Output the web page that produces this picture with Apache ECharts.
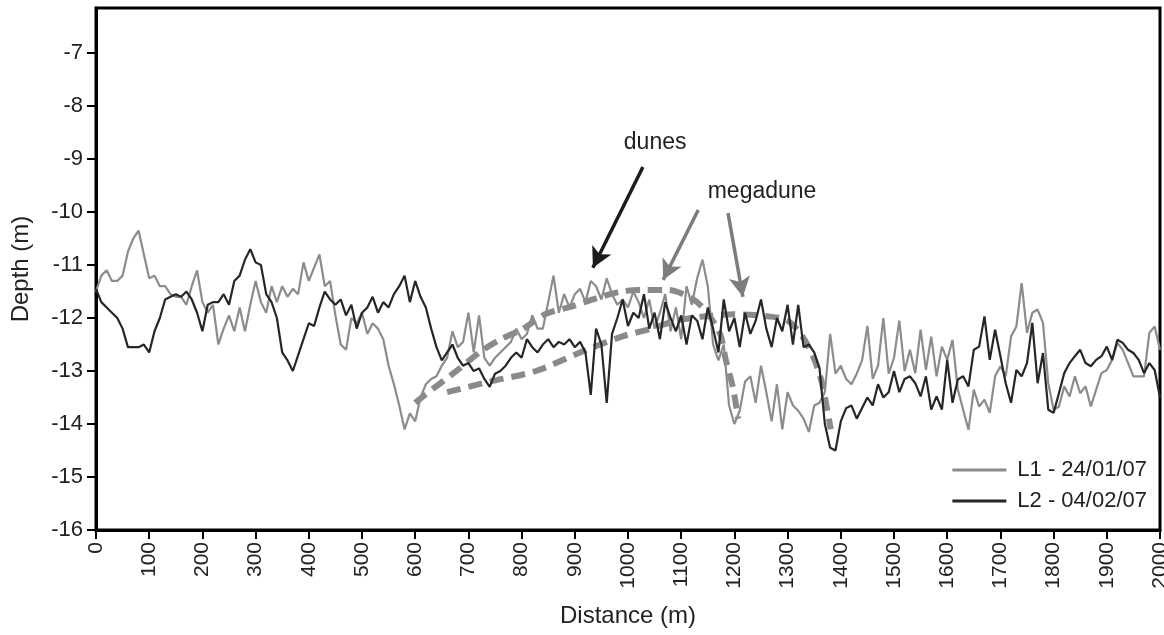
<!DOCTYPE html>
<html>
<head>
<meta charset="utf-8">
<script src="https://cdn.jsdelivr.net/npm/echarts@6/dist/echarts.min.js"></script>
<style>
html,body{margin:0;padding:0;background:#fff;}
#chart{width:1164px;height:635px;}
</style>
</head>
<body>
<div id="chart"></div>
<script>
// Distance (m) sampling positions
const distance = [0,10,20,30,40,50,60,70,80,90,100,110,120,130,140,150,160,170,180,190,200,210,220,230,240,250,260,270,280,290,300,310,320,330,340,350,360,370,380,390,400,410,420,430,440,450,460,470,480,490,500,510,520,530,540,550,560,570,580,590,600,610,620,630,640,650,660,670,680,690,700,710,720,730,740,750,760,770,780,790,800,810,820,830,840,850,860,870,880,890,900,910,920,930,940,950,960,970,980,990,1000,1010,1020,1030,1040,1050,1060,1070,1080,1090,1100,1110,1120,1130,1140,1150,1160,1170,1180,1190,1200,1210,1220,1230,1240,1250,1260,1270,1280,1290,1300,1310,1320,1330,1340,1350,1360,1370,1380,1390,1400,1410,1420,1430,1440,1450,1460,1470,1480,1490,1500,1510,1520,1530,1540,1550,1560,1570,1580,1590,1600,1610,1620,1630,1640,1650,1660,1670,1680,1690,1700,1710,1720,1730,1740,1750,1760,1770,1780,1790,1800,1810,1820,1830,1840,1850,1860,1870,1880,1890,1900,1910,1920,1930,1940,1950,1960,1970,1980,1990,2000];

// L1 - 24/01/07 depth (m)
const depthL1 = [-11.5,-11.2,-11.1,-11.3,-11.3,-11.2,-10.75,-10.5,-10.35,-10.8,-11.25,-11.2,-11.4,-11.4,-11.55,-11.6,-11.6,-11.75,-11.4,-11.1,-11.7,-11.9,-11.75,-12.5,-12.2,-11.95,-12.25,-11.8,-12.25,-11.75,-11.3,-11.7,-11.9,-11.4,-11.7,-11.4,-11.6,-11.45,-11.55,-10.95,-11.3,-11.05,-10.8,-11.4,-11.3,-11.95,-12.5,-12.6,-12.0,-12.1,-11.9,-12.3,-12.1,-12.2,-12.4,-12.9,-13.25,-13.65,-14.1,-13.8,-13.95,-13.5,-13.25,-13.15,-13.1,-12.9,-12.75,-12.25,-12.55,-12.45,-11.9,-12.65,-11.95,-12.75,-12.9,-12.75,-12.65,-12.55,-12.45,-12.2,-12.4,-12.3,-11.95,-12.2,-12.2,-11.7,-11.2,-11.9,-11.55,-11.8,-11.55,-11.45,-11.7,-11.3,-11.4,-11.65,-11.25,-11.55,-11.75,-11.65,-11.8,-11.5,-11.7,-12.0,-11.65,-12.2,-11.9,-11.55,-12.25,-11.8,-12.4,-11.4,-11.75,-11.25,-10.9,-11.4,-12.5,-12.8,-12.5,-13.65,-14.0,-13.75,-13.2,-13.1,-13.6,-12.9,-13.4,-13.95,-13.25,-14.1,-13.4,-13.65,-13.75,-13.9,-14.15,-13.65,-13.6,-13.4,-12.3,-13.05,-12.9,-13.15,-13.25,-13.05,-12.8,-12.15,-13.15,-12.9,-12.0,-13.05,-12.75,-12.05,-13.0,-12.6,-13.04,-12.22,-12.98,-12.35,-13.1,-12.54,-12.79,-12.41,-13.35,-13.73,-14.11,-13.35,-13.67,-13.54,-13.79,-13.1,-12.91,-13.1,-12.35,-12.16,-11.34,-12.28,-11.9,-11.84,-12.09,-13.23,-13.73,-13.67,-13.29,-13.48,-13.1,-13.42,-13.29,-13.67,-13.35,-13.04,-12.98,-12.79,-12.47,-12.6,-12.85,-13.1,-13.1,-13.1,-12.28,-12.16,-12.6];

// L2 - 04/02/07 depth (m)
const depthL2 = [-11.45,-11.7,-11.8,-11.9,-12.0,-12.2,-12.55,-12.55,-12.55,-12.5,-12.65,-12.25,-12.0,-11.65,-11.6,-11.55,-11.6,-11.5,-11.65,-11.9,-12.25,-11.75,-11.7,-11.7,-11.55,-11.75,-11.3,-11.2,-10.9,-10.7,-10.95,-11.0,-11.55,-11.7,-12.0,-12.65,-12.8,-13.0,-12.7,-12.4,-12.1,-12.15,-11.8,-11.5,-11.65,-11.75,-11.65,-11.95,-11.75,-12.2,-11.9,-11.8,-11.6,-11.9,-11.7,-11.8,-11.55,-11.4,-11.2,-11.7,-11.3,-11.6,-11.8,-12.2,-12.55,-12.8,-12.65,-12.5,-12.75,-12.9,-12.85,-13.0,-12.95,-13.15,-13.3,-13.05,-13.0,-12.9,-12.75,-12.65,-12.75,-12.4,-12.55,-12.65,-12.5,-12.4,-12.55,-12.45,-12.5,-12.4,-12.55,-12.45,-12.65,-13.45,-12.2,-12.5,-13.6,-12.3,-12.0,-11.65,-12.15,-11.9,-12.0,-11.55,-12.2,-11.9,-12.4,-11.7,-12.0,-12.25,-11.95,-12.5,-11.95,-12.05,-12.4,-11.8,-12.2,-12.65,-11.65,-12.25,-12.0,-12.55,-11.9,-12.3,-12.05,-11.65,-12.2,-12.55,-12.0,-12.25,-11.75,-12.5,-11.75,-12.55,-12.5,-12.65,-12.95,-14.0,-14.45,-14.5,-13.95,-13.7,-13.65,-13.9,-13.7,-13.5,-13.65,-13.25,-13.5,-13.4,-13.0,-13.4,-13.15,-13.1,-13.23,-13.48,-13.1,-13.73,-13.48,-13.73,-12.79,-13.6,-13.16,-13.1,-13.29,-12.6,-12.54,-11.97,-12.79,-12.22,-12.72,-13.23,-13.6,-12.98,-13.1,-12.85,-12.09,-13.23,-12.66,-13.73,-13.79,-13.42,-13.04,-12.85,-12.72,-12.6,-12.85,-12.91,-12.79,-12.72,-12.54,-12.79,-12.41,-12.47,-12.6,-12.66,-12.79,-13.04,-12.85,-12.98,-13.5];

// Megadune envelope (dashed) for L1
const megaL1Dist  = [600,612,680,722,761,803,846,895,940,987,1032,1075,1118,1145,1173,1184,1197,1207];
const megaL1Depth = [-13.6,-13.5,-12.98,-12.64,-12.4,-12.2,-11.92,-11.78,-11.63,-11.5,-11.47,-11.47,-11.62,-11.85,-12.3,-12.8,-13.3,-13.9];
// Megadune envelope (dashed) for L2
const megaL2Dist  = [660,740,827,910,988,1044,1090,1142,1200,1265,1300,1328,1349,1364,1373,1381];
const megaL2Depth = [-13.4,-13.2,-13.0,-12.65,-12.35,-12.2,-12.05,-11.97,-11.93,-11.97,-12.05,-12.35,-12.75,-13.2,-13.65,-14.1];

// Annotations (label text, anchor in data space)
const labelTexts = ['dunes','megadune'];
const labelDist  = [1051,1252];
const labelDepth = [-8.69,-9.62];
// Arrows: start -> end in data space
const arrowStartDist  = [1028,1132,1188];
const arrowStartDepth = [-9.15,-9.96,-10.02];
const arrowEndDist    = [934,1066,1216];
const arrowEndDepth   = [-11.05,-11.28,-11.6];
const arrowColors     = ['#1c1c1c','#7d7d7d','#7d7d7d'];

// Axis ticks
const xTicks = {min:0, max:2000, interval:100};
const yTicks = {min:-16, max:-6.15, interval:1};

const seriesNames = ['L1 - 24/01/07','L2 - 04/02/07'];

const FONT = '"Liberation Sans", Arial, Helvetica, sans-serif';
const TXT = '#222';

function zip(a,b){ return a.map((v,i)=>[v,b[i]]); }

const chart = echarts.init(document.getElementById('chart'), null, {renderer:'canvas'});

const arrowData = arrowStartDist.map((d,i)=>[
  {coord:[d, arrowStartDepth[i]], symbol:'none', lineStyle:{color:arrowColors[i], width:3.5, type:'solid'}},
  {coord:[arrowEndDist[i], arrowEndDepth[i]], symbol:'arrow', symbolSize:[16,20]}
]);
const labelData = labelTexts.map((t,i)=>({name:t, coord:[labelDist[i], labelDepth[i]]}));

chart.setOption({
  animation:false,
  backgroundColor:'#fff',
  textStyle:{fontFamily:FONT},
  grid:{left:96, right:4, top:8, bottom:105, show:true, borderColor:'#000', borderWidth:3, containLabel:false, outerBoundsMode:'none'},
  legend:{
    data:seriesNames,
    orient:'vertical',
    right:12, top:454,
    icon:'rect',
    itemWidth:54, itemHeight:3,
    itemGap:9,
    textStyle:{fontSize:22, color:TXT, fontFamily:FONT, padding:[0,0,0,6]}
  },
  xAxis:{
    type:'value', min:xTicks.min, max:xTicks.max, interval:xTicks.interval,
    name:'Distance (m)', nameLocation:'middle', nameGap:74,
    nameTextStyle:{fontSize:24, color:TXT, fontFamily:FONT},
    axisLine:{show:true, lineStyle:{color:'#000', width:3}},
    axisTick:{show:true, inside:false, length:9, lineStyle:{color:'#000', width:2}},
    axisLabel:{rotate:90, fontSize:21, color:TXT, margin:12, fontFamily:FONT, formatter:(v)=>String(v)},
    splitLine:{show:false}
  },
  yAxis:{
    type:'value', min:yTicks.min, max:yTicks.max, interval:yTicks.interval,
    name:'Depth (m)', nameLocation:'middle', nameGap:63,
    nameTextStyle:{fontSize:24, color:TXT, fontFamily:FONT},
    axisLine:{show:true, lineStyle:{color:'#000', width:3}},
    axisTick:{show:true, inside:false, length:9, lineStyle:{color:'#000', width:2}},
    axisLabel:{fontSize:22, color:TXT, margin:13, fontFamily:FONT, showMaxLabel:false, formatter:(v)=>String(v)},
    splitLine:{show:false}
  },
  series:[
    {
      name:seriesNames[0], type:'line', data:zip(distance, depthL1),
      showSymbol:false, symbol:'none', itemStyle:{color:'#8c8c8c'},
      lineStyle:{color:'#8c8c8c', width:2.2}, z:2,
      markLine:{silent:true, animation:false, label:{show:false}, data:arrowData, z:10},
      markPoint:{
        silent:true, animation:false, symbol:'rect', symbolSize:1,
        itemStyle:{color:'rgba(0,0,0,0)'},
        label:{show:true, position:'inside', formatter:'{b}', fontSize:23, color:TXT, fontFamily:FONT},
        data:labelData
      }
    },
    {
      name:'megaL1', type:'line', data:zip(megaL1Dist, megaL1Depth), smooth:0.3,
      showSymbol:false, symbol:'none', silent:true,
      lineStyle:{color:'#8a8a8a', width:6, type:[14,8]}, z:3
    },
    {
      name:'megaL2', type:'line', data:zip(megaL2Dist, megaL2Depth), smooth:0.3,
      showSymbol:false, symbol:'none', silent:true,
      lineStyle:{color:'#8a8a8a', width:6, type:[14,8]}, z:3
    },
    {
      name:seriesNames[1], type:'line', data:zip(distance, depthL2),
      showSymbol:false, symbol:'none', itemStyle:{color:'#262626'},
      lineStyle:{color:'#262626', width:2.2}, z:4
    }
  ]
});
</script>
</body>
</html>
